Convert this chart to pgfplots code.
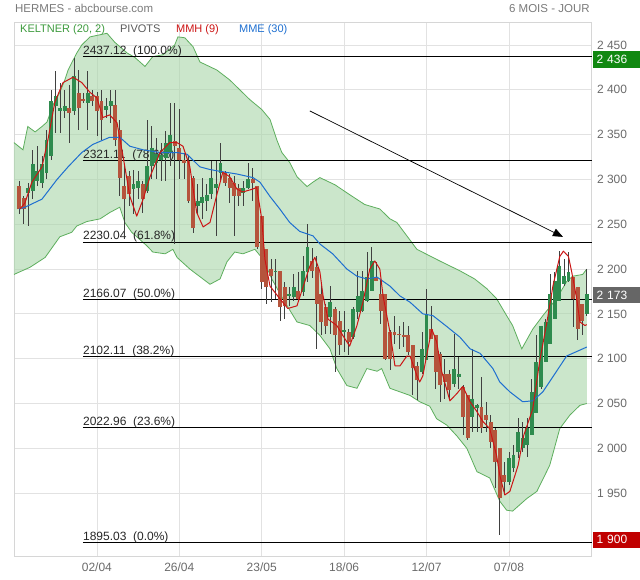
\documentclass[border=0pt]{standalone}
\usepackage{fontspec}
\setmainfont{Liberation Sans}
\usepackage{pgfplots}
\usepackage{pgfplotstable}
\pgfplotsset{compat=1.18}
\usepgfplotslibrary{fillbetween}
\usetikzlibrary{arrows.meta}

\definecolor{cup}{HTML}{2E8B4E}
\definecolor{cdown}{HTML}{B5543C}
\definecolor{wick}{HTML}{404040}
\definecolor{bandedge}{HTML}{5DAE5D}
\definecolor{bandfill}{HTML}{A8D5A8}
\definecolor{mmh}{HTML}{CC1414}
\definecolor{mme}{HTML}{1E6FD0}
\definecolor{gridc}{HTML}{E2E2E2}
\definecolor{framec}{HTML}{D6D6D6}
\definecolor{tickc}{HTML}{6A6A6A}
\definecolor{hdr}{HTML}{7A7A7A}
\definecolor{kgreen}{HTML}{3C9A3C}
\definecolor{boxgreen}{HTML}{118811}
\definecolor{boxgray}{HTML}{666666}
\definecolor{boxred}{HTML}{C00000}

\tikzset{
  pivot/.style={black, line width=0.8pt},
  plab/.style={anchor=base west, inner sep=0pt, yshift=2.3pt, font=\fontsize{12}{14}\selectfont, text=black!85},
}

% daily candles: index, open, high, low, close
\pgfplotstableread{
i o h l c
0 2292.6 2298.1 2261.1 2266.7
1 2279.6 2281.5 2250 2266.7
2 2285 2296.3 2248.2 2290
3 2287 2333.3 2277.8 2316.7
4 2298.1 2337 2292.6 2309.3
5 2296.3 2326 2290.7 2316.7
6 2307.4 2355.6 2300 2344.4
7 2326 2400 2322.2 2387
8 2381.5 2420.4 2351.9 2392.6
9 2375.9 2407.4 2351.9 2379.6
10 2375.9 2400 2368.5 2381.5
11 2379.6 2405.6 2340.7 2374.1
12 2375.9 2435.2 2372.2 2414.8
13 2396.3 2422.2 2355.6 2379.6
14 2390 2396 2385 2388
15 2385.2 2420.4 2355.6 2396.3
16 2392.6 2400 2381.5 2387
17 2392.6 2398 2348.1 2375.9
18 2387 2400 2344.4 2366.7
19 2377.8 2390.7 2368.5 2381.5
20 2381.5 2400 2363 2387
21 2383.3 2400 2337 2344.4
22 2355.6 2366.7 2281.5 2301.9
23 2292.6 2314.8 2240.7 2277.8
24 2303.7 2309 2270 2283.3
25 2288.9 2311 2261 2294.4
26 2290.7 2309.3 2277.8 2298.1
27 2294.4 2298.1 2263 2277.8
28 2287 2366.7 2285 2314.8
29 2314.8 2359.3 2300 2335.2
30 2318.5 2346.3 2300 2327.8
31 2322 2340.7 2298.1 2327
32 2324 2353.7 2298.1 2340.7
33 2329.6 2385.2 2314.8 2350
34 2342.6 2385 2228 2337
35 2335 2378 2300 2322
36 2322 2330 2300 2318
37 2320 2325.9 2274 2276
38 2302 2303.7 2240.7 2246.3
39 2270 2294.4 2261 2276
40 2274 2301.9 2255.6 2280
41 2276 2294.4 2264.8 2283
42 2284 2320 2278 2302
43 2290.7 2320.4 2237 2294.4
44 2307.4 2340.7 2298.1 2318.5
45 2307.4 2309.3 2292.6 2296.3
46 2301.9 2305.6 2274 2290.7
47 2296.3 2303.7 2237 2281.5
48 2290.7 2294.4 2270.4 2281.5
49 2285 2298 2270 2290
50 2290.7 2318.5 2288.9 2300
51 2300 2313 2276 2296.3
52 2292.6 2292.6 2222.2 2224.1
53 2259.3 2259.3 2177.8 2185.2
54 2222.2 2222.2 2161.1 2179.6
55 2200 2211 2163 2192.6
56 2196.3 2211 2166.7 2198.1
57 2198.1 2198.1 2142.6 2157.4
58 2179.6 2185.2 2144.4 2159.3
59 2170.4 2179.6 2159.3 2172
60 2168.5 2194.4 2164.8 2179.6
61 2176 2196.3 2163 2166.7
62 2174 2214.8 2170.4 2198.1
63 2196.3 2250 2185.2 2224.1
64 2209 2224 2190 2198
65 2201.9 2214.8 2111 2161.1
66 2172.2 2181.5 2126 2140.7
67 2157.4 2161.1 2127.8 2137
68 2146.3 2181.5 2127.8 2163
69 2155.6 2157.4 2085.2 2125.9
70 2142.6 2153.7 2103.7 2114.8
71 2129.6 2153.7 2107.4 2131.5
72 2129.6 2133.3 2103.7 2118.5
73 2124 2157.4 2122.2 2155.6
74 2151.9 2198.1 2144.4 2170.4
75 2153.7 2198.1 2151.9 2175.9
76 2164.8 2218.5 2163 2190.7
77 2175.9 2224.1 2175.9 2209.3
78 2190.7 2207.4 2187 2187
79 2172.2 2188.9 2138.9 2153.7
80 2172.2 2172.2 2098 2100
81 2129.6 2131.5 2087 2100
82 2129.6 2148.1 2116.7 2125.9
83 2127.8 2137 2111 2126
84 2126.7 2140.7 2113 2124
85 2126 2137 2103.7 2107.4
86 2114.8 2114.8 2059.3 2090
87 2092 2096.3 2053.7 2075.9
88 2085.2 2129.6 2083.3 2111
89 2098.1 2177.8 2098.1 2150
90 2133.3 2159.3 2122.2 2122.2
91 2125.9 2125.9 2066.7 2085.2
92 2105.6 2107.4 2051.9 2070.4
93 2083.3 2100 2055.6 2074
94 2083.3 2087 2055.6 2064.8
95 2072.2 2127.8 2068.5 2088.9
96 2079.6 2101.9 2066.7 2083.3
97 2068.5 2070.4 2014.8 2035.2
98 2059.3 2059.3 2009.3 2011.1
99 2035.2 2111.1 2018.5 2055.6
100 2045 2050 2018.5 2048
101 2046.3 2079.6 2016.7 2022.2
102 2037 2051.9 2018.5 2031.5
103 2029.6 2037 2000 2007.4
104 2020.4 2022.2 1955.6 1985.2
105 2000 2000 1903.7 1944.4
106 1970 1985 1948 1963
107 1963 1996.3 1959.3 1989
108 1977.8 2003.7 1974 1992.6
109 1996.3 2033.3 1989 2018.5
110 2000 2029.6 1996.3 2011.1
111 2003.7 2033.3 1990.7 2022.2
112 2014.8 2077.8 2014.8 2063
113 2039 2125.9 2039 2096.3
114 2068.5 2137 2066.7 2137
115 2096.3 2144.4 2096.3 2140.7
116 2116.7 2194.4 2116.7 2172.2
117 2144.4 2196.3 2144.4 2187
118 2164.8 2220.4 2164.8 2203.7
119 2183.3 2211.1 2181.5 2192.6
120 2187 2218.5 2185.2 2196.3
121 2190.7 2190.7 2135.2 2166.7
122 2179.6 2179.6 2120.4 2133.3
123 2161.1 2161.1 2126 2142.6
124 2150 2200 2148.1 2172.2
}\candles

% Keltner (20, 2) upper band
\pgfplotstableread{
i v
-1.11 2341
0.85 2333
1.9 2359
3.5 2353
5.0 2359
6.1 2364
7.4 2383
8.9 2397
10.0 2411
10.7 2422
11.5 2430
12.6 2441
13.7 2450
15.5 2459
19.2 2463
20.9 2453
23.6 2441
25.3 2436
27.5 2426
29.2 2437
31.4 2439
34.0 2450
34.7 2459
36.2 2458
38.0 2448
39.5 2431
43.2 2422
46.0 2411
50.4 2389
53.0 2378
54.8 2367
56.3 2344
57.4 2330
59.1 2319
60.7 2303
62.9 2292
64.2 2297
65.7 2302
69.0 2294
72.2 2283
75.5 2272
78.8 2267
81.0 2256
82.5 2252
84.7 2237
86.9 2222
91.9 2209
96.3 2198
99.5 2189
102.2 2178
104.3 2167
106.5 2148
107.8 2137
109.8 2111
112.2 2133
114.4 2148
117.4 2167
119.6 2186
120.9 2192
123.1 2194
124.0 2200
}\kup

% Keltner (20, 2) lower band
\pgfplotstableread{
i v
-1.11 2194
2.4 2202
5.7 2213
8.9 2236
11.5 2241
12.6 2248
14.8 2253
17.7 2256
19.8 2263
22.0 2269
23.1 2252
24.6 2241
27.9 2226
29.2 2219
31.9 2217
33.6 2222
34.5 2213
37.3 2200
41.7 2183
43.9 2189
45.4 2208
47.1 2219
48.9 2217
51.5 2222
53.3 2211
55.2 2189
57.6 2167
60.7 2141
63.5 2137
65.7 2126
67.9 2111
69.4 2089
71.6 2070
73.8 2067
75.95 2089
78.2 2086
79.2 2089
81.0 2067
83.2 2063
85.4 2059
87.5 2052
89.7 2047
91.2 2033
93.4 2026
95.6 2014
97.8 2000
100.0 1974
102.8 1967
105.0 1941
106.5 1931
107.8 1930
110.9 1944
113.1 1952
115.9 1981
118.1 2022
120.3 2037
122.5 2048
124.0 2050
}\klo

% MMH (9)
\pgfplotstableread{
i v
0.2 2267
1.3 2274
2.8 2297
5.0 2314
6.3 2344
7.8 2386
9.6 2408
11.8 2414
13.7 2408
15.5 2397
17.0 2391
18.3 2369
19.8 2372
21.4 2363
22.7 2326
24.2 2281
25.7 2259
27.1 2278
28.6 2303
30.8 2330
32.9 2341
34.5 2341
35.8 2337
37.3 2314
38.8 2263
40.2 2247
41.7 2252
43.2 2283
44.5 2308
46.0 2303
47.6 2289
48.9 2286
50.9 2289
51.9 2291
53.0 2256
53.7 2211
54.8 2181
56.95 2167
58.7 2156
60.7 2159
61.9 2178
63.5 2203
64.6 2213
65.7 2197
66.4 2170
67.5 2144
69.4 2137
70.7 2126
72.2 2114
73.8 2137
75.1 2163
76.6 2200
77.7 2209
78.8 2200
79.5 2170
81.0 2130
82.1 2092
83.2 2092
84.7 2103
85.4 2103
86.9 2081
87.5 2074
88.2 2081
89.3 2111
90.15 2133
91.2 2119
92.3 2086
94.1 2053
95.6 2061
96.9 2069
98.5 2052
100.0 2041
101.3 2030
102.8 2022
104.3 1992
105.0 1970
106.1 1948
107.2 1952
109.0 1981
110.2 2014
112.2 2044
113.7 2097
115.3 2141
116.6 2181
118.1 2214
118.9 2220
120.0 2214
120.7 2197
121.8 2167
122.5 2141
123.6 2137
124.0 2138
}\mmh

% MME (30)
\pgfplotstableread{
i v
0 2267
1.3 2269
5.0 2278
8.3 2300
10.7 2314
13.7 2330
16.1 2339
19.8 2347
22.0 2347
24.2 2337
27.1 2333
30.8 2330
34.5 2330
36.7 2328
39.5 2314
41.7 2311
43.9 2309
47.6 2306
51.1 2302
52.6 2297
54.8 2281
56.95 2267
59.1 2252
61.3 2242
64.2 2237
65.7 2228
68.5 2217
71.6 2200
73.8 2192
75.95 2189
78.2 2191
81.0 2181
83.2 2170
85.4 2163
88.2 2150
90.4 2148
93.4 2136
96.3 2124
98.5 2111
100.7 2106
103.5 2089
105.0 2074
107.2 2063
110.0 2052
112.2 2053
114.4 2063
117.4 2086
119.6 2103
121.8 2108
124.0 2113
}\mme

\begin{document}
\begin{tikzpicture}[x=1pt,y=1pt]
\path (0,0) rectangle (640,580);

\begin{axis}[
  at={(14pt,23pt)}, anchor=south west,
  width=578pt, height=535pt, scale only axis,
  xmin=-1.11, xmax=125.1, ymin=1879, ymax=2475.6,
  clip=false,
  axis line style={draw=framec, line width=0.8pt},
  xtick={17,35,53,71,89,107},
  xticklabels={02/04,26/04,23/05,18/06,12/07,07/08},
  ytick={1950,2000,...,2450},
  yticklabel pos=right,
  grid=major,
  grid style={draw=gridc, line width=0.8pt},
  major tick length=0pt,
  tick label style={font=\fontsize{12}{14}\selectfont, text=tickc},
  yticklabel style={anchor=west, inner sep=0pt, xshift=5pt},
  xticklabel style={anchor=north, inner sep=0pt, yshift=-6pt},
  /pgf/number format/.cd, 1000 sep={\ }, assume math mode=true
]

% Keltner band
\addplot[name path=up, draw=bandedge, line width=0.8pt, forget plot] table[x=i, y=v] {\kup};
\addplot[name path=lo, draw=bandedge, line width=0.8pt, forget plot] table[x=i, y=v] {\klo};
\addplot[fill=bandfill, fill opacity=0.6, draw=none, forget plot] fill between[of=up and lo];

% pivots
\addplot[pivot, forget plot] coordinates {(13.95,2437.12) (125.1,2437.12)};
\addplot[pivot, forget plot] coordinates {(13.95,2321.11) (125.1,2321.11)};
\addplot[pivot, forget plot] coordinates {(13.95,2230.04) (125.1,2230.04)};
\addplot[pivot, forget plot] coordinates {(13.95,2166.07) (125.1,2166.07)};
\addplot[pivot, forget plot] coordinates {(13.95,2102.11) (125.1,2102.11)};
\addplot[pivot, forget plot] coordinates {(13.95,2022.96) (125.1,2022.96)};
\addplot[pivot, forget plot] coordinates {(13.95,1895.03) (125.1,1895.03)};
\node[plab] at (axis cs:13.95,2437.12) {2437.12\ \ (100.0\%)};
\node[plab] at (axis cs:13.95,2321.11) {2321.11\ \ (78.6\%)};
\node[plab] at (axis cs:13.95,2230.04) {2230.04\ \ (61.8\%)};
\node[plab] at (axis cs:13.95,2166.07) {2166.07\ \ (50.0\%)};
\node[plab] at (axis cs:13.95,2102.11) {2102.11\ \ (38.2\%)};
\node[plab] at (axis cs:13.95,2022.96) {2022.96\ \ (23.6\%)};
\node[plab] at (axis cs:13.95,1895.03) {1895.03\ \ (0.0\%)};

% candles: wicks, then bodies
\addplot[draw=none, mark=none, forget plot,
  error bars/.cd, y dir=both, y explicit, error mark=none,
  error bar style={draw=wick, line width=0.75pt}]
  table[x=i, y=c, y error plus expr={\thisrow{h}-\thisrow{c}}, y error minus expr={\thisrow{c}-\thisrow{l}}] {\candles};
\addplot[draw=none, mark=none, forget plot,
  x filter/.expression={\thisrow{c}<\thisrow{o} ? nan : x},
  error bars/.cd, y dir=minus, y explicit, error mark=none,
  error bar style={draw=cup, line width=3.9pt}]
  table[x=i, y=c, y error minus expr={max(\thisrow{c}-\thisrow{o},1)}] {\candles};
\addplot[draw=none, mark=none, forget plot,
  x filter/.expression={\thisrow{c}<\thisrow{o} ? x : nan},
  error bars/.cd, y dir=plus, y explicit, error mark=none,
  error bar style={draw=cdown, line width=3.9pt}]
  table[x=i, y=c, y error plus expr={\thisrow{o}-\thisrow{c}}] {\candles};

% moving averages
\addplot[mme, line width=1pt, line join=round, forget plot] table[x=i, y=v] {\mme};
\addplot[mmh, line width=1pt, line join=round, forget plot] table[x=i, y=v] {\mmh};

% trend arrow
\addplot[black, line width=0.7pt, -{Triangle[length=10pt,width=8pt]}, forget plot] coordinates {(63.5,2376.4) (118.8,2235.9)};

\end{axis}

% header and legend
\node[anchor=base west, inner sep=0pt, text=hdr, font=\fontsize{11.5}{13}\selectfont] at (15,567.7) {HERMES - abcbourse.com};
\node[anchor=base east, inner sep=0pt, text=hdr, font=\fontsize{11.5}{13}\selectfont] at (590,567.7) {6 MOIS - JOUR};
\node[anchor=base west, inner sep=0pt, text=kgreen, font=\fontsize{11}{13}\selectfont] at (20,547) {KELTNER (20, 2)};
\node[anchor=base west, inner sep=0pt, text=black!65, font=\fontsize{11}{13}\selectfont] at (120,547) {PIVOTS};
\node[anchor=base west, inner sep=0pt, text=mmh, font=\fontsize{11}{13}\selectfont] at (176,547) {MMH (9)};
\node[anchor=base west, inner sep=0pt, text=mme, font=\fontsize{11}{13}\selectfont] at (239,547) {MME (30)};

% value boxes on the price scale
\node[anchor=west, fill=boxgreen, text=white, inner xsep=3.5pt, inner ysep=0pt, minimum height=17pt, text width=40pt, font=\fontsize{12}{14}\selectfont] at (593,520.5) {2 436};
\node[anchor=west, fill=boxgray, text=white, inner xsep=3.5pt, inner ysep=0pt, minimum height=16pt, text width=40pt, font=\fontsize{12}{14}\selectfont] at (593,284.5) {2 173};
\node[anchor=west, fill=boxred, text=white, inner xsep=3.5pt, inner ysep=0pt, minimum height=16pt, text width=40pt, font=\fontsize{12}{14}\selectfont] at (593,40) {1 900};
\end{tikzpicture}
\end{document}
